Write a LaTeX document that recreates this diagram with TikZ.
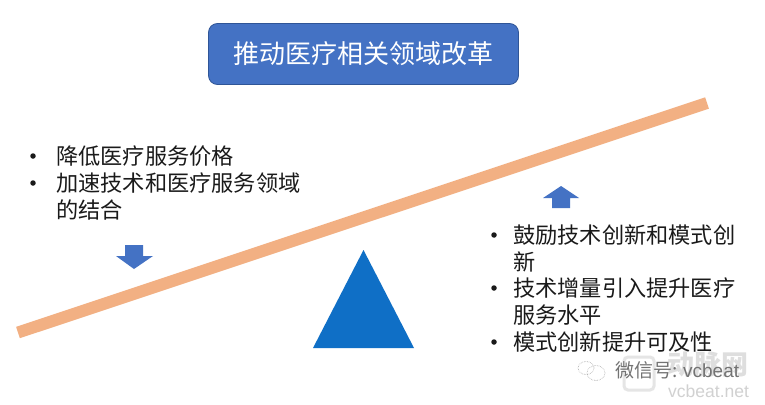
\documentclass[tikz,border=0pt]{standalone}
\usepackage{fontspec}
\setmainfont{Noto Sans CJK SC}
\newfontfamily\latinf{Liberation Sans}
\definecolor{boxblue}{HTML}{4472C4}
\definecolor{boxedge}{HTML}{2F5597}
\definecolor{beam}{HTML}{F2B083}
\definecolor{tri}{HTML}{0F6FC6}
\definecolor{txt}{HTML}{1A1A1A}
\tikzset{
  titlebox/.style={draw=boxedge,line width=0.8pt,fill=boxblue,rounded corners=9pt,minimum width=310pt,minimum height=61pt,text=white,font=\fontsize{26}{26}\selectfont,inner sep=0pt},
  line1/.style={anchor=west,text=txt,font=\fontsize{22.2}{22.2}\selectfont,inner sep=0pt},
  dot/.style={circle,fill=txt,minimum size=5.5pt,inner sep=0pt},
  arrowshape/.style={fill=boxblue,draw=none},
  wm/.style={inner sep=0pt,anchor=west}
}
\begin{document}
\begin{tikzpicture}[x=1pt,y=-1pt]
\useasboundingbox (0,0) rectangle (765,404);
\fill[white] (0,0) rectangle (765,404);
\node[titlebox] (title) at (363.5,54) {推动医疗相关领域改革};
\coordinate (beamL) at (18,332.5);
\coordinate (beamR) at (707,103);
\draw[beam,line width=12pt] (beamL) -- (beamR);
\fill[tri] (363.5,250) -- (414,348) -- (313,348) -- cycle;
\fill[arrowshape] (125,245) -- (143,245) -- (143,256) -- (153,256) -- (134,269) -- (116,256) -- (125,256) -- cycle;
\fill[arrowshape] (552,208) -- (570,208) -- (570,198) -- (579,198) -- (561,186) -- (543,198) -- (552,198) -- cycle;
% watermark, behind the text
\draw[black!10,line width=3pt,rounded corners=4pt] (624,357) rectangle (654,390);
\node[wm,text=black!13,font=\fontsize{27}{27}\selectfont\bfseries] (w3) at (667,364) {动脉网};
\node[wm,text=black!18,font=\latinf\fontsize{17.5}{17.5}\selectfont] (w4) at (668,391) {vcbeat.net};
\node[dot] (d1) at (33,156) {};
\node[line1] (t1) at (56,156) {降低医疗服务价格};
\node[dot] (d2) at (33,183) {};
\node[line1] (t2) at (56,183) {加速技术和医疗服务领域};
\node[line1] (t3) at (56,210) {的结合};
\node[dot] (d3) at (494,235) {};
\node[line1] (r1) at (513,235) {鼓励技术创新和模式创};
\node[line1] (r2) at (513,262) {新};
\node[dot] (d4) at (494,288) {};
\node[line1] (r3) at (513,288) {技术增量引入提升医疗};
\node[line1] (r4) at (513,315) {服务水平};
\node[dot] (d5) at (494,342) {};
\node[line1] (r5) at (513,342) {模式创新提升可及性};
\node[wm,text=black!55,font=\fontsize{19}{19}\selectfont] (w1) at (615,370) {微信号: \latinf vcbeat};
\draw[black!35,line width=0.6pt,densely dotted] (586,368) ellipse (8pt and 6.5pt);
\draw[black!35,line width=0.6pt,densely dotted] (596,373) ellipse (9pt and 7.5pt);
\end{tikzpicture}
\end{document}
